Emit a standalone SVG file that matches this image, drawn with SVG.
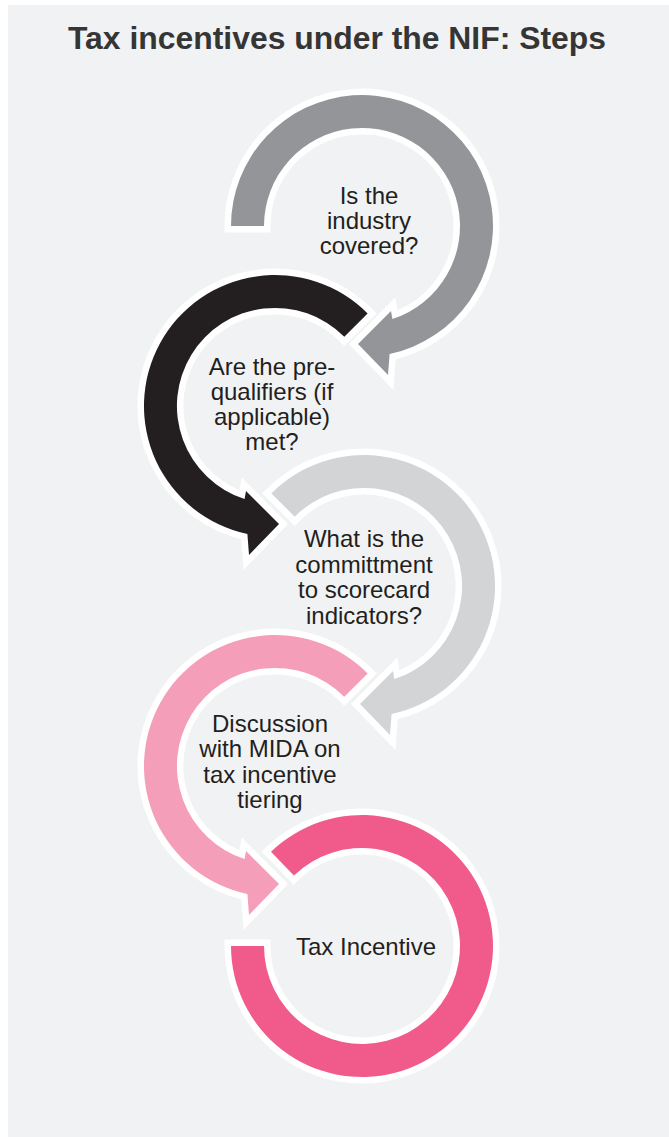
<svg xmlns="http://www.w3.org/2000/svg" width="669" height="1137" viewBox="0 0 669 1137">
<style>
.arrow{stroke:#ffffff;stroke-width:13;paint-order:stroke;stroke-linejoin:miter;stroke-miterlimit:6}
.lbl{font-family:"Liberation Sans",Arial,sans-serif;font-size:24px;fill:#231f20;text-anchor:middle}
.title{font-family:"Liberation Sans",Arial,sans-serif;font-size:32px;font-weight:bold;fill:#353535;text-anchor:middle}
</style>
<rect x="0" y="0" width="669" height="1137" fill="#ffffff"/>
<rect x="8" y="5" width="661" height="1132" fill="#f1f2f4"/>
<text class="title" x="337" y="49" textLength="538" lengthAdjust="spacingAndGlyphs">Tax incentives under the NIF: Steps</text>
<g id="connectors">
<path id="arrow-e" class="arrow" fill="#f15b8c" d="M 231,946 A131 131 0 1 0 271,851.8 L 293.9,875.5 A98 98 0 1 1 264,946 Z"/>
<path id="arrow-d" class="arrow" fill="#f49eb9" d="M 367.6,673.4 A131 131 0 1 0 247.4,894.1 L 249,915 L 279,884 L 246,851 L 244.6,859.1 A98 98 0 1 1 344.3,696.7 Z"/>
<path id="arrow-c" class="arrow" fill="#d3d4d6" d="M 271.4,493.4 A131 131 0 1 1 391.6,714.1 L 390,735 L 360,704 L 393,671 L 394.4,679.1 A98 98 0 1 0 294.7,516.7 Z"/>
<path id="arrow-b" class="arrow" fill="#231f20" d="M 367.6,313.4 A131 131 0 1 0 247.4,534.1 L 249,555 L 279,524 L 246,491 L 244.6,499.1 A98 98 0 1 1 344.3,336.7 Z"/>
<path id="arrow-a" class="arrow" fill="#939598" d="M 231,226 A131 131 0 1 1 389.6,354.1 L 388,375 L 358,344 L 391,311 L 392.4,319.1 A98 98 0 1 0 264,226 Z"/>
</g>
<g id="node-1"><text class="lbl" x="369"><tspan x="369" y="204">Is the</tspan><tspan x="369" y="229">industry</tspan><tspan x="369" y="254">covered?</tspan></text></g>
<g id="node-2"><text class="lbl" x="272"><tspan x="272" y="375">Are the pre-</tspan><tspan x="272" y="400">qualifiers (if</tspan><tspan x="272" y="425">applicable)</tspan><tspan x="272" y="450">met?</tspan></text></g>
<g id="node-3"><text class="lbl" x="364"><tspan x="364" y="547">What is the</tspan><tspan x="364" y="573">committment</tspan><tspan x="364" y="598">to scorecard</tspan><tspan x="364" y="624">indicators?</tspan></text></g>
<g id="node-4"><text class="lbl" x="270"><tspan x="270" y="732">Discussion</tspan><tspan x="270" y="757">with MIDA on</tspan><tspan x="270" y="783">tax incentive</tspan><tspan x="270" y="808">tiering</tspan></text></g>
<g id="node-5"><text class="lbl" x="366" y="955">Tax Incentive</text></g>
</svg>
